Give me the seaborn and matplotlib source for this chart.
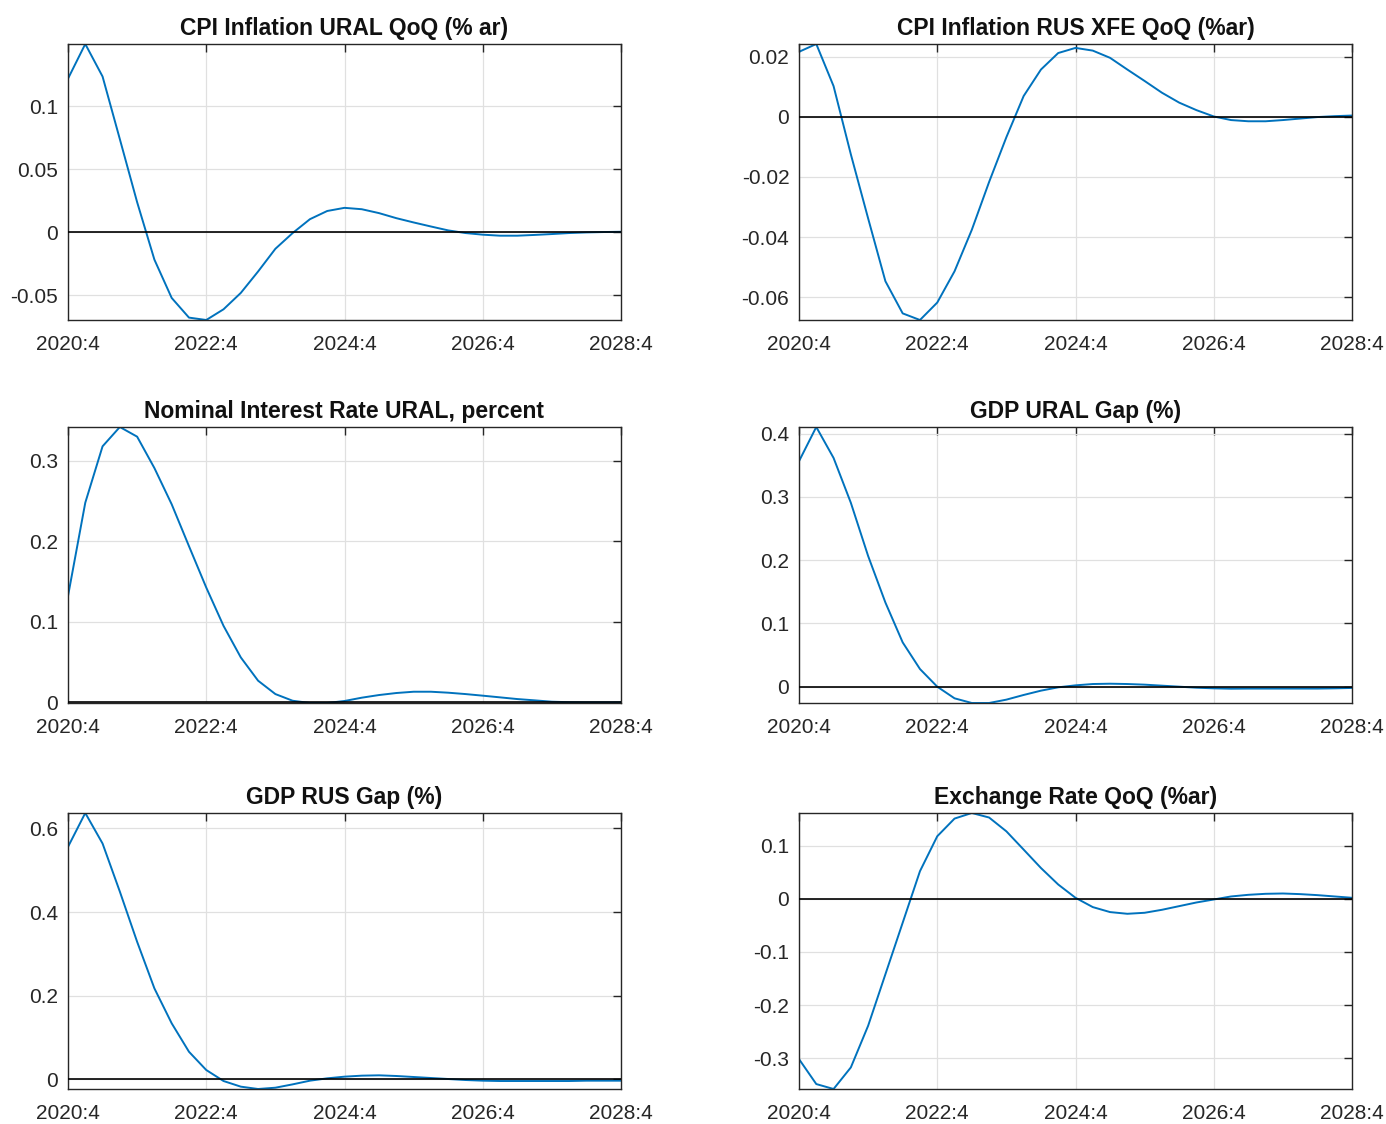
import numpy as np
import pandas as pd
import matplotlib
matplotlib.use("Agg")
import matplotlib.pyplot as plt
import seaborn as sns

# ---------------- data ----------------
tick_positions = [0, 8, 16, 24, 32]
tick_labels = ["2020:4", "2022:4", "2024:4", "2026:4", "2028:4"]

titles = [
    "CPI Inflation URAL QoQ (% ar)",
    "CPI Inflation RUS XFE QoQ (%ar)",
    "Nominal Interest Rate URAL, percent",
    "GDP URAL Gap (%)",
    "GDP RUS Gap (%)",
    "Exchange Rate QoQ (%ar)",
]

cpi_ural = [0.122, 0.1495, 0.1237, 0.074, 0.024, -0.0216, -0.052, -0.0676, -0.0695,
            -0.061, -0.048, -0.031, -0.013, -0.0005, 0.0105, 0.017, 0.0195, 0.0184,
            0.0153, 0.0113, 0.0079, 0.0047, 0.0016, -0.0005, -0.0018, -0.0026, -0.0026,
            -0.002, -0.0013, -0.0005, 0.0, 0.0003, 0.0005]

cpi_rus_xfe = [0.0216, 0.0242, 0.0102, -0.0125, -0.0338, -0.0547, -0.0654, -0.0676,
               -0.0618, -0.0514, -0.0376, -0.0217, -0.0068, 0.0069, 0.0157, 0.0212,
               0.0229, 0.022, 0.0196, 0.0157, 0.0119, 0.008, 0.0047, 0.0022, 0.0001,
               -0.0011, -0.0015, -0.0015, -0.0011, -0.0006, -0.0001, 0.0002, 0.0004]

rate_ural = [0.132, 0.248, 0.318, 0.342, 0.330, 0.291, 0.246, 0.194, 0.1426, 0.095,
             0.0558, 0.0269, 0.0103, 0.002, -0.0008, -0.0008, 0.0017, 0.0058, 0.0091,
             0.0116, 0.0132, 0.0132, 0.012, 0.0103, 0.0083, 0.0062, 0.0041, 0.0025,
             0.0008, 0.0002, 0.0, 0.0, 0.0]

gdp_ural = [0.3564, 0.4105, 0.3616, 0.2907, 0.2066, 0.133, 0.070, 0.0279, 0.0,
            -0.0184, -0.0258, -0.0258, -0.0205, -0.0131, -0.0063, -0.001, 0.0021,
            0.0042, 0.0047, 0.0042, 0.0032, 0.0016, 0.0, -0.0016, -0.0026, -0.0032,
            -0.003, -0.003, -0.003, -0.003, -0.003, -0.0026, -0.002]

gdp_rus = [0.556, 0.637, 0.564, 0.449, 0.329, 0.2175, 0.134, 0.066, 0.0223, -0.004,
           -0.0175, -0.0231, -0.020, -0.012, -0.0032, 0.0024, 0.0064, 0.0088, 0.0096,
           0.008, 0.0056, 0.0032, 0.0008, -0.0016, -0.0032, -0.004, -0.004, -0.004,
           -0.004, -0.004, -0.0032, -0.0032, -0.0032]

exch_rate = [-0.3017, -0.3487, -0.358, -0.3174, -0.239, -0.142, -0.045, 0.052, 0.1177,
             0.151, 0.1615, 0.153, 0.127, 0.0926, 0.058, 0.0269, 0.0019, -0.0156,
             -0.025, -0.0282, -0.0263, -0.0207, -0.0138, -0.0069, -0.0013, 0.0044,
             0.0075, 0.0094, 0.010, 0.0088, 0.0069, 0.0044, 0.0019]

yticks = [
    [-0.05, 0, 0.05, 0.1],
    [-0.06, -0.04, -0.02, 0, 0.02],
    [0, 0.1, 0.2, 0.3],
    [0, 0.1, 0.2, 0.3, 0.4],
    [0, 0.2, 0.4, 0.6],
    [-0.3, -0.2, -0.1, 0, 0.1],
]

series = [cpi_ural, cpi_rus_xfe, rate_ural, gdp_ural, gdp_rus, exch_rate]

# ---------------- style ----------------
sns.set_theme(style="white")
plt.rcParams['font.family'] = ['Liberation Sans', 'DejaVu Sans']

W, H = 1386, 1124
fig = plt.figure(figsize=(W / 100, H / 100), dpi=100)

lefts = [68, 799]
tops = [44, 427, 813]
aw, ah = 553, 276

line_color = "#0072BD"
txt_color = "#262626"

for i, (vals, title, yt) in enumerate(zip(series, titles, yticks)):
    r, c = divmod(i, 2)
    ax = fig.add_axes([lefts[c] / W, 1 - (tops[r] + ah) / H, aw / W, ah / H])
    df = pd.DataFrame({"t": np.arange(len(vals)), "v": vals})
    sns.lineplot(data=df, x="t", y="v", ax=ax, color=line_color, lw=1.4, zorder=2)
    ax.axhline(0, color="black", lw=1.2, zorder=3)
    ax.set_xlim(0, len(vals) - 1)
    ax.set_ylim(min(vals), max(vals))
    ax.set_xticks(tick_positions)
    ax.set_xticklabels(tick_labels)
    ax.set_yticks(yt)
    ax.set_yticklabels(["%g" % v for v in yt])
    ax.set_xlabel("")
    ax.set_ylabel("")
    ax.grid(True, color="#e0e0e0", lw=0.9)
    ax.set_axisbelow(True)
    ax.tick_params(direction="in", top=True, right=True, length=6, width=1,
                   colors=txt_color, labelsize=15)
    ax.tick_params(axis="x", pad=11)
    ax.tick_params(axis="y", pad=7)
    for s in ax.spines.values():
        s.set_color(txt_color)
        s.set_linewidth(1.0)
    ax.set_title(title, fontsize=16.5, fontweight="bold", color="#111111", pad=6.5)

fig.savefig("out.png", dpi=100, facecolor="white")
